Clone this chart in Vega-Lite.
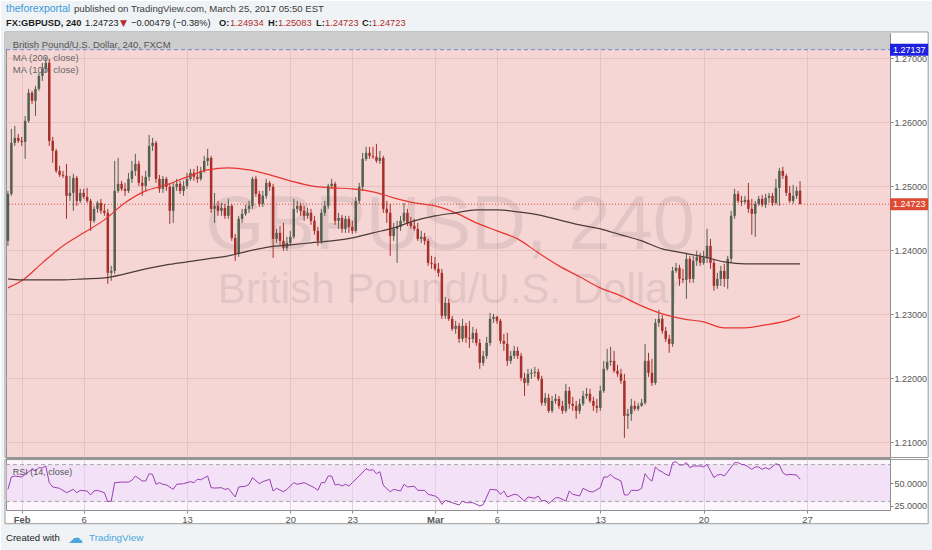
{
"$schema": "https://vega.github.io/schema/vega-lite/v6.json",
"background": "#ffffff",
"padding": 0,
"spacing": -2,
"config": {"font": "Liberation Sans", "axis": {"domain": false, "labelColor": "#555555", "labelFontSize": 9, "labelFont": "Liberation Sans", "tickColor": "#888888"}},
"datasets": {
"candles": [
{"i":-4,"o":1.2415,"h":1.24931,"l":1.24072,"c":1.24884},
{"i":-3,"o":1.24884,"h":1.259,"l":1.24853,"c":1.25681},
{"i":-2,"o":1.25681,"h":1.25947,"l":1.25634,"c":1.25759},
{"i":-1,"o":1.25759,"h":1.25822,"l":1.25681,"c":1.25713},
{"i":0,"o":1.25713,"h":1.25775,"l":1.25634,"c":1.25697},
{"i":1,"o":1.25697,"h":1.26103,"l":1.25431,"c":1.26025},
{"i":2,"o":1.26025,"h":1.26525,"l":1.25994,"c":1.26463},
{"i":3,"o":1.26463,"h":1.26494,"l":1.26291,"c":1.26338},
{"i":4,"o":1.26338,"h":1.26572,"l":1.26103,"c":1.26525},
{"i":5,"o":1.26525,"h":1.26775,"l":1.26494,"c":1.26728},
{"i":6,"o":1.26728,"h":1.26931,"l":1.2665,"c":1.26838},
{"i":7,"o":1.26838,"h":1.27025,"l":1.26775,"c":1.26931},
{"i":8,"o":1.26931,"h":1.26994,"l":1.25634,"c":1.25713},
{"i":9,"o":1.25713,"h":1.25775,"l":1.25369,"c":1.25556},
{"i":10,"o":1.25556,"h":1.25588,"l":1.25213,"c":1.25244},
{"i":11,"o":1.25244,"h":1.25322,"l":1.2515,"c":1.25181},
{"i":12,"o":1.25181,"h":1.25244,"l":1.25134,"c":1.25166},
{"i":13,"o":1.25166,"h":1.25353,"l":1.24494,"c":1.24853},
{"i":14,"o":1.24853,"h":1.25166,"l":1.24775,"c":1.249},
{"i":15,"o":1.249,"h":1.25197,"l":1.24619,"c":1.25134},
{"i":16,"o":1.25134,"h":1.25166,"l":1.24697,"c":1.24775},
{"i":17,"o":1.24775,"h":1.24963,"l":1.24744,"c":1.249},
{"i":18,"o":1.249,"h":1.24963,"l":1.24806,"c":1.24838},
{"i":19,"o":1.24838,"h":1.24978,"l":1.24744,"c":1.24775},
{"i":20,"o":1.24775,"h":1.24806,"l":1.24306,"c":1.24463},
{"i":21,"o":1.24463,"h":1.24697,"l":1.24431,"c":1.2465},
{"i":22,"o":1.2465,"h":1.24775,"l":1.24588,"c":1.24744},
{"i":23,"o":1.24744,"h":1.24806,"l":1.24572,"c":1.24619},
{"i":24,"o":1.24619,"h":1.24728,"l":1.24541,"c":1.24588},
{"i":25,"o":1.24588,"h":1.2465,"l":1.23478,"c":1.2365},
{"i":26,"o":1.2365,"h":1.23759,"l":1.23525,"c":1.23681},
{"i":27,"o":1.23681,"h":1.254,"l":1.23634,"c":1.24931},
{"i":28,"o":1.24931,"h":1.25447,"l":1.249,"c":1.25041},
{"i":29,"o":1.25041,"h":1.25088,"l":1.24931,"c":1.24963},
{"i":30,"o":1.24963,"h":1.25056,"l":1.24853,"c":1.24931},
{"i":31,"o":1.24931,"h":1.25213,"l":1.249,"c":1.25119},
{"i":32,"o":1.25119,"h":1.254,"l":1.25056,"c":1.25244},
{"i":33,"o":1.25244,"h":1.25509,"l":1.25166,"c":1.25353},
{"i":34,"o":1.25353,"h":1.254,"l":1.25009,"c":1.25056},
{"i":35,"o":1.25056,"h":1.25166,"l":1.24853,"c":1.25009},
{"i":36,"o":1.25009,"h":1.25244,"l":1.24931,"c":1.2515},
{"i":37,"o":1.2515,"h":1.25806,"l":1.25088,"c":1.25634},
{"i":38,"o":1.25634,"h":1.25759,"l":1.25556,"c":1.25681},
{"i":39,"o":1.25681,"h":1.25713,"l":1.25056,"c":1.25119},
{"i":40,"o":1.25119,"h":1.25181,"l":1.249,"c":1.24963},
{"i":41,"o":1.24963,"h":1.25166,"l":1.249,"c":1.25119},
{"i":42,"o":1.25119,"h":1.2515,"l":1.24931,"c":1.24994},
{"i":43,"o":1.24994,"h":1.25041,"l":1.24416,"c":1.24619},
{"i":44,"o":1.24619,"h":1.25056,"l":1.24431,"c":1.24994},
{"i":45,"o":1.24994,"h":1.25119,"l":1.24931,"c":1.25041},
{"i":46,"o":1.25041,"h":1.25088,"l":1.24884,"c":1.24931},
{"i":47,"o":1.24931,"h":1.25088,"l":1.24853,"c":1.25009},
{"i":48,"o":1.25009,"h":1.25213,"l":1.24963,"c":1.25119},
{"i":49,"o":1.25119,"h":1.25275,"l":1.25088,"c":1.25213},
{"i":50,"o":1.25213,"h":1.25275,"l":1.25088,"c":1.2515},
{"i":51,"o":1.2515,"h":1.25322,"l":1.25056,"c":1.25119},
{"i":52,"o":1.25119,"h":1.25306,"l":1.25088,"c":1.25244},
{"i":53,"o":1.25244,"h":1.25478,"l":1.25213,"c":1.254},
{"i":54,"o":1.254,"h":1.25588,"l":1.25322,"c":1.25447},
{"i":55,"o":1.25447,"h":1.25478,"l":1.24588,"c":1.2465},
{"i":56,"o":1.2465,"h":1.249,"l":1.24431,"c":1.24697},
{"i":57,"o":1.24697,"h":1.24775,"l":1.24541,"c":1.24619},
{"i":58,"o":1.24619,"h":1.24744,"l":1.24541,"c":1.24666},
{"i":59,"o":1.24666,"h":1.24728,"l":1.24494,"c":1.24541},
{"i":60,"o":1.24541,"h":1.24806,"l":1.24494,"c":1.24697},
{"i":61,"o":1.24697,"h":1.24728,"l":1.2415,"c":1.24197},
{"i":62,"o":1.24197,"h":1.24259,"l":1.23838,"c":1.23947},
{"i":63,"o":1.23947,"h":1.24541,"l":1.239,"c":1.24494},
{"i":64,"o":1.24494,"h":1.2465,"l":1.24431,"c":1.24572},
{"i":65,"o":1.24572,"h":1.24713,"l":1.24541,"c":1.2465},
{"i":66,"o":1.2465,"h":1.24775,"l":1.24588,"c":1.24697},
{"i":67,"o":1.24697,"h":1.2515,"l":1.2465,"c":1.25119},
{"i":68,"o":1.25119,"h":1.25166,"l":1.24838,"c":1.24884},
{"i":69,"o":1.24884,"h":1.24931,"l":1.24681,"c":1.24728},
{"i":70,"o":1.24728,"h":1.24931,"l":1.24681,"c":1.24853},
{"i":71,"o":1.24853,"h":1.25119,"l":1.24806,"c":1.25056},
{"i":72,"o":1.25056,"h":1.25088,"l":1.24931,"c":1.24994},
{"i":73,"o":1.24994,"h":1.25041,"l":1.23884,"c":1.24181},
{"i":74,"o":1.24181,"h":1.24338,"l":1.24119,"c":1.24275},
{"i":75,"o":1.24275,"h":1.24384,"l":1.24088,"c":1.2415},
{"i":76,"o":1.2415,"h":1.24431,"l":1.23994,"c":1.24041},
{"i":77,"o":1.24041,"h":1.24213,"l":1.23994,"c":1.24119},
{"i":78,"o":1.24119,"h":1.24306,"l":1.24072,"c":1.24213},
{"i":79,"o":1.24213,"h":1.24806,"l":1.24181,"c":1.2465},
{"i":80,"o":1.2465,"h":1.24775,"l":1.24588,"c":1.24697},
{"i":81,"o":1.24697,"h":1.24744,"l":1.24541,"c":1.24619},
{"i":82,"o":1.24619,"h":1.24697,"l":1.24463,"c":1.24541},
{"i":83,"o":1.24541,"h":1.24666,"l":1.24494,"c":1.24588},
{"i":84,"o":1.24588,"h":1.2465,"l":1.244,"c":1.24463},
{"i":85,"o":1.24463,"h":1.24541,"l":1.24244,"c":1.24306},
{"i":86,"o":1.24306,"h":1.24369,"l":1.24072,"c":1.2415},
{"i":87,"o":1.2415,"h":1.2465,"l":1.24103,"c":1.24588},
{"i":88,"o":1.24588,"h":1.24775,"l":1.24541,"c":1.24697},
{"i":89,"o":1.24697,"h":1.25041,"l":1.2465,"c":1.25009},
{"i":90,"o":1.25009,"h":1.25119,"l":1.24963,"c":1.25041},
{"i":91,"o":1.25041,"h":1.25072,"l":1.244,"c":1.24463},
{"i":92,"o":1.24463,"h":1.24588,"l":1.24338,"c":1.24509},
{"i":93,"o":1.24509,"h":1.24556,"l":1.24275,"c":1.24338},
{"i":94,"o":1.24338,"h":1.24541,"l":1.24275,"c":1.24494},
{"i":95,"o":1.24494,"h":1.24541,"l":1.24275,"c":1.24369},
{"i":96,"o":1.24369,"h":1.24463,"l":1.24259,"c":1.24306},
{"i":97,"o":1.24306,"h":1.24838,"l":1.24275,"c":1.24775},
{"i":98,"o":1.24775,"h":1.25056,"l":1.24728,"c":1.24994},
{"i":99,"o":1.24994,"h":1.25525,"l":1.24931,"c":1.25431},
{"i":100,"o":1.25431,"h":1.25619,"l":1.254,"c":1.25525},
{"i":101,"o":1.25525,"h":1.25619,"l":1.25431,"c":1.25478},
{"i":102,"o":1.25478,"h":1.25619,"l":1.25431,"c":1.25463},
{"i":103,"o":1.25463,"h":1.25666,"l":1.25369,"c":1.254},
{"i":104,"o":1.254,"h":1.25556,"l":1.25353,"c":1.25447},
{"i":105,"o":1.25447,"h":1.25478,"l":1.24588,"c":1.2465},
{"i":106,"o":1.2465,"h":1.24775,"l":1.24431,"c":1.24588},
{"i":107,"o":1.24588,"h":1.24728,"l":1.23916,"c":1.24228},
{"i":108,"o":1.24228,"h":1.24431,"l":1.2415,"c":1.24338},
{"i":109,"o":1.24338,"h":1.24463,"l":1.23806,"c":1.24369},
{"i":110,"o":1.24369,"h":1.24541,"l":1.24306,"c":1.24463},
{"i":111,"o":1.24463,"h":1.24744,"l":1.24431,"c":1.24588},
{"i":112,"o":1.24588,"h":1.2465,"l":1.24384,"c":1.24431},
{"i":113,"o":1.24431,"h":1.24525,"l":1.24338,"c":1.24384},
{"i":114,"o":1.24384,"h":1.24494,"l":1.24306,"c":1.24338},
{"i":115,"o":1.24338,"h":1.24431,"l":1.2415,"c":1.24181},
{"i":116,"o":1.24181,"h":1.24306,"l":1.24119,"c":1.24213},
{"i":117,"o":1.24213,"h":1.24275,"l":1.24088,"c":1.2415},
{"i":118,"o":1.2415,"h":1.24181,"l":1.23759,"c":1.23806},
{"i":119,"o":1.23806,"h":1.23916,"l":1.23713,"c":1.23791},
{"i":120,"o":1.23791,"h":1.239,"l":1.23681,"c":1.23713},
{"i":121,"o":1.23713,"h":1.23806,"l":1.23588,"c":1.2365},
{"i":122,"o":1.2365,"h":1.23713,"l":1.22931,"c":1.22978},
{"i":123,"o":1.22978,"h":1.23275,"l":1.22931,"c":1.23181},
{"i":124,"o":1.23181,"h":1.23244,"l":1.229,"c":1.22931},
{"i":125,"o":1.22931,"h":1.22978,"l":1.22744,"c":1.22775},
{"i":126,"o":1.22775,"h":1.229,"l":1.22697,"c":1.22822},
{"i":127,"o":1.22822,"h":1.22869,"l":1.22556,"c":1.22619},
{"i":128,"o":1.22619,"h":1.22931,"l":1.22572,"c":1.22822},
{"i":129,"o":1.22822,"h":1.22869,"l":1.22556,"c":1.22634},
{"i":130,"o":1.22634,"h":1.229,"l":1.22478,"c":1.22619},
{"i":131,"o":1.22619,"h":1.22806,"l":1.22556,"c":1.22713},
{"i":132,"o":1.22713,"h":1.22775,"l":1.22509,"c":1.22556},
{"i":133,"o":1.22556,"h":1.22619,"l":1.2215,"c":1.22244},
{"i":134,"o":1.22244,"h":1.22431,"l":1.22197,"c":1.22353},
{"i":135,"o":1.22353,"h":1.2265,"l":1.22306,"c":1.22556},
{"i":136,"o":1.22556,"h":1.23025,"l":1.22509,"c":1.22931},
{"i":137,"o":1.22931,"h":1.23009,"l":1.22869,"c":1.22963},
{"i":138,"o":1.22963,"h":1.22978,"l":1.22853,"c":1.229},
{"i":139,"o":1.229,"h":1.22931,"l":1.22541,"c":1.22588},
{"i":140,"o":1.22588,"h":1.22697,"l":1.22431,"c":1.22541},
{"i":141,"o":1.22541,"h":1.22713,"l":1.22197,"c":1.22275},
{"i":142,"o":1.22275,"h":1.22431,"l":1.22228,"c":1.22353},
{"i":143,"o":1.22353,"h":1.22509,"l":1.22306,"c":1.22431},
{"i":144,"o":1.22431,"h":1.22494,"l":1.22306,"c":1.22353},
{"i":145,"o":1.22353,"h":1.224,"l":1.21963,"c":1.22009},
{"i":146,"o":1.22009,"h":1.22088,"l":1.21728,"c":1.21931},
{"i":147,"o":1.21931,"h":1.2215,"l":1.21884,"c":1.22072},
{"i":148,"o":1.22072,"h":1.2215,"l":1.21994,"c":1.22088},
{"i":149,"o":1.22088,"h":1.22181,"l":1.22025,"c":1.22103},
{"i":150,"o":1.22103,"h":1.2215,"l":1.21963,"c":1.21994},
{"i":151,"o":1.21994,"h":1.22041,"l":1.21572,"c":1.21619},
{"i":152,"o":1.21619,"h":1.21775,"l":1.21572,"c":1.21697},
{"i":153,"o":1.21697,"h":1.21759,"l":1.21463,"c":1.21494},
{"i":154,"o":1.21494,"h":1.21728,"l":1.21463,"c":1.2165},
{"i":155,"o":1.2165,"h":1.21759,"l":1.21603,"c":1.21681},
{"i":156,"o":1.21681,"h":1.21728,"l":1.21525,"c":1.21572},
{"i":157,"o":1.21572,"h":1.2165,"l":1.21447,"c":1.21494},
{"i":158,"o":1.21494,"h":1.21916,"l":1.21463,"c":1.21806},
{"i":159,"o":1.21806,"h":1.21869,"l":1.21525,"c":1.21603},
{"i":160,"o":1.21603,"h":1.21713,"l":1.21494,"c":1.21572},
{"i":161,"o":1.21572,"h":1.2165,"l":1.21369,"c":1.21494},
{"i":162,"o":1.21494,"h":1.21681,"l":1.21447,"c":1.21603},
{"i":163,"o":1.21603,"h":1.21806,"l":1.21572,"c":1.21728},
{"i":164,"o":1.21728,"h":1.21853,"l":1.21681,"c":1.21759},
{"i":165,"o":1.21759,"h":1.21838,"l":1.21619,"c":1.2165},
{"i":166,"o":1.2165,"h":1.21713,"l":1.21494,"c":1.21572},
{"i":167,"o":1.21572,"h":1.21681,"l":1.21463,"c":1.21541},
{"i":168,"o":1.21541,"h":1.21884,"l":1.21494,"c":1.21806},
{"i":169,"o":1.21806,"h":1.22275,"l":1.21775,"c":1.2215},
{"i":170,"o":1.2215,"h":1.22463,"l":1.22119,"c":1.22259},
{"i":171,"o":1.22259,"h":1.22494,"l":1.22197,"c":1.22275},
{"i":172,"o":1.22275,"h":1.22431,"l":1.22088,"c":1.22119},
{"i":173,"o":1.22119,"h":1.22213,"l":1.22025,"c":1.22072},
{"i":174,"o":1.22072,"h":1.2215,"l":1.21916,"c":1.21963},
{"i":175,"o":1.21963,"h":1.22072,"l":1.21072,"c":1.21416},
{"i":176,"o":1.21416,"h":1.21525,"l":1.21213,"c":1.21447},
{"i":177,"o":1.21447,"h":1.21681,"l":1.21338,"c":1.21572},
{"i":178,"o":1.21572,"h":1.2165,"l":1.21494,"c":1.21525},
{"i":179,"o":1.21525,"h":1.21619,"l":1.21494,"c":1.21572},
{"i":180,"o":1.21572,"h":1.21681,"l":1.21556,"c":1.21619},
{"i":181,"o":1.21619,"h":1.22541,"l":1.21588,"c":1.22275},
{"i":182,"o":1.22275,"h":1.224,"l":1.22025,"c":1.22088},
{"i":183,"o":1.22088,"h":1.22306,"l":1.21884,"c":1.21931},
{"i":184,"o":1.21931,"h":1.22931,"l":1.219,"c":1.22869},
{"i":185,"o":1.22869,"h":1.23072,"l":1.22806,"c":1.22931},
{"i":186,"o":1.22931,"h":1.22994,"l":1.22697,"c":1.22744},
{"i":187,"o":1.22744,"h":1.22806,"l":1.22572,"c":1.22619},
{"i":188,"o":1.22619,"h":1.22681,"l":1.224,"c":1.22541},
{"i":189,"o":1.22541,"h":1.23744,"l":1.22494,"c":1.23681},
{"i":190,"o":1.23681,"h":1.23806,"l":1.2365,"c":1.23728},
{"i":191,"o":1.23728,"h":1.23775,"l":1.23447,"c":1.23556},
{"i":192,"o":1.23556,"h":1.23713,"l":1.23494,"c":1.23541},
{"i":193,"o":1.23541,"h":1.23963,"l":1.23244,"c":1.23869},
{"i":194,"o":1.23869,"h":1.23916,"l":1.23494,"c":1.23556},
{"i":195,"o":1.23556,"h":1.23916,"l":1.23494,"c":1.23838},
{"i":196,"o":1.23838,"h":1.23994,"l":1.23759,"c":1.239},
{"i":197,"o":1.239,"h":1.23963,"l":1.23759,"c":1.23806},
{"i":198,"o":1.23806,"h":1.23994,"l":1.23775,"c":1.23884},
{"i":199,"o":1.23884,"h":1.24338,"l":1.23806,"c":1.24072},
{"i":200,"o":1.24072,"h":1.24181,"l":1.23713,"c":1.23806},
{"i":201,"o":1.23806,"h":1.23869,"l":1.23369,"c":1.23447},
{"i":202,"o":1.23447,"h":1.2365,"l":1.234,"c":1.23556},
{"i":203,"o":1.23556,"h":1.23759,"l":1.23447,"c":1.23681},
{"i":204,"o":1.23681,"h":1.23791,"l":1.23431,"c":1.23556},
{"i":205,"o":1.23556,"h":1.23916,"l":1.234,"c":1.23869},
{"i":206,"o":1.23869,"h":1.24619,"l":1.23806,"c":1.24541},
{"i":207,"o":1.24541,"h":1.24963,"l":1.24494,"c":1.24884},
{"i":208,"o":1.24884,"h":1.24931,"l":1.24744,"c":1.24775},
{"i":209,"o":1.24775,"h":1.24853,"l":1.24697,"c":1.24759},
{"i":210,"o":1.24759,"h":1.24853,"l":1.24728,"c":1.24791},
{"i":211,"o":1.24791,"h":1.25056,"l":1.24588,"c":1.2465},
{"i":212,"o":1.2465,"h":1.24806,"l":1.24244,"c":1.24572},
{"i":213,"o":1.24572,"h":1.24775,"l":1.24213,"c":1.24728},
{"i":214,"o":1.24728,"h":1.24853,"l":1.24697,"c":1.24806},
{"i":215,"o":1.24806,"h":1.24869,"l":1.24681,"c":1.24713},
{"i":216,"o":1.24713,"h":1.24884,"l":1.24666,"c":1.24822},
{"i":217,"o":1.24822,"h":1.249,"l":1.24744,"c":1.24853},
{"i":218,"o":1.24853,"h":1.249,"l":1.24697,"c":1.24744},
{"i":219,"o":1.24744,"h":1.25119,"l":1.24713,"c":1.24978},
{"i":220,"o":1.24978,"h":1.25291,"l":1.24697,"c":1.25244},
{"i":221,"o":1.25244,"h":1.25306,"l":1.25119,"c":1.25166},
{"i":222,"o":1.25166,"h":1.25197,"l":1.24853,"c":1.249},
{"i":223,"o":1.249,"h":1.25009,"l":1.24744,"c":1.24775},
{"i":224,"o":1.24775,"h":1.25025,"l":1.24728,"c":1.24853},
{"i":225,"o":1.24853,"h":1.24994,"l":1.24806,"c":1.24931},
{"i":226,"o":1.24934,"h":1.25083,"l":1.24723,"c":1.24723}
],
"ma": [
{"i":-4,"ma100":1.23416,"ma200":1.23556},
{"i":0,"ma100":1.23525,"ma200":1.23541},
{"i":6,"ma100":1.23806,"ma200":1.23541},
{"i":12,"ma100":1.24072,"ma200":1.23541},
{"i":18,"ma100":1.24275,"ma200":1.23556},
{"i":24,"ma100":1.24478,"ma200":1.23572},
{"i":30,"ma100":1.24744,"ma200":1.23634},
{"i":36,"ma100":1.24931,"ma200":1.23713},
{"i":42,"ma100":1.25025,"ma200":1.23775},
{"i":48,"ma100":1.2515,"ma200":1.23822},
{"i":54,"ma100":1.25259,"ma200":1.23869},
{"i":60,"ma100":1.25291,"ma200":1.23916},
{"i":66,"ma100":1.25259,"ma200":1.23994},
{"i":72,"ma100":1.25181,"ma200":1.24056},
{"i":78,"ma100":1.25088,"ma200":1.24088},
{"i":84,"ma100":1.25009,"ma200":1.24119},
{"i":90,"ma100":1.24978,"ma200":1.2415},
{"i":96,"ma100":1.24963,"ma200":1.24197},
{"i":102,"ma100":1.24916,"ma200":1.24275},
{"i":108,"ma100":1.24822,"ma200":1.24353},
{"i":114,"ma100":1.24744,"ma200":1.24463},
{"i":120,"ma100":1.24697,"ma200":1.24541},
{"i":126,"ma100":1.24588,"ma200":1.24588},
{"i":132,"ma100":1.24431,"ma200":1.24634},
{"i":138,"ma100":1.24306,"ma200":1.24634},
{"i":144,"ma100":1.24181,"ma200":1.24603},
{"i":150,"ma100":1.23963,"ma200":1.24556},
{"i":156,"ma100":1.23759,"ma200":1.24478},
{"i":162,"ma100":1.23588,"ma200":1.244},
{"i":168,"ma100":1.23416,"ma200":1.24338},
{"i":174,"ma100":1.23291,"ma200":1.24244},
{"i":180,"ma100":1.23134,"ma200":1.2415},
{"i":186,"ma100":1.23009,"ma200":1.24025},
{"i":192,"ma100":1.22931,"ma200":1.23963},
{"i":198,"ma100":1.22884,"ma200":1.239},
{"i":204,"ma100":1.22791,"ma200":1.23822},
{"i":210,"ma100":1.22791,"ma200":1.23791},
{"i":216,"ma100":1.22838,"ma200":1.23791},
{"i":222,"ma100":1.229,"ma200":1.23791},
{"i":226,"ma100":1.22978,"ma200":1.23791}
],
"rsi": [
{"i":-4,"v":43},{"i":-3,"v":56.5},{"i":-2,"v":57.6},{"i":0,"v":56.5},{"i":1,"v":59.4},{"i":3,"v":64.9},{"i":4,"v":63},{"i":5,"v":66.7},{"i":6,"v":66.3},{"i":7,"v":68.5},{"i":8,"v":50.4},{"i":9,"v":45.7},{"i":11,"v":44.2},{"i":13,"v":39.5},{"i":15,"v":43.1},{"i":16,"v":39.5},{"i":17,"v":42},{"i":19,"v":41.3},{"i":20,"v":37},{"i":21,"v":41.3},{"i":22,"v":42},{"i":24,"v":39.5},{"i":25,"v":29.7},{"i":26,"v":30.4},{"i":27,"v":50.4},{"i":29,"v":51},{"i":31,"v":51},{"i":32,"v":52.9},{"i":33,"v":57.6},{"i":35,"v":52.2},{"i":36,"v":52.2},{"i":37,"v":60.1},{"i":38,"v":59.4},{"i":39,"v":48.6},{"i":40,"v":50.4},{"i":41,"v":48.6},{"i":42,"v":48},{"i":44,"v":43.1},{"i":45,"v":48.6},{"i":47,"v":49.3},{"i":49,"v":51.5},{"i":50,"v":50.4},{"i":51,"v":54},{"i":52,"v":53.5},{"i":54,"v":57.6},{"i":55,"v":44.9},{"i":56,"v":44.5},{"i":58,"v":44.9},{"i":59,"v":43.1},{"i":60,"v":44},{"i":62,"v":34.8},{"i":63,"v":45.7},{"i":65,"v":46.5},{"i":66,"v":48.6},{"i":67,"v":55.8},{"i":69,"v":49.3},{"i":70,"v":51.5},{"i":72,"v":54},{"i":73,"v":41.3},{"i":74,"v":44.2},{"i":76,"v":40.5},{"i":77,"v":43.1},{"i":79,"v":50.4},{"i":80,"v":48.6},{"i":82,"v":50.4},{"i":83,"v":48.6},{"i":85,"v":44.9},{"i":86,"v":42},{"i":87,"v":50.4},{"i":88,"v":50.4},{"i":89,"v":57.6},{"i":90,"v":57.6},{"i":91,"v":47.8},{"i":92,"v":48.6},{"i":93,"v":46.7},{"i":94,"v":48.6},{"i":95,"v":46.7},{"i":96,"v":50.4},{"i":98,"v":57.6},{"i":100,"v":65.6},{"i":101,"v":63.8},{"i":102,"v":64.5},{"i":103,"v":60.1},{"i":104,"v":62.3},{"i":105,"v":47.5},{"i":107,"v":40.5},{"i":108,"v":43.1},{"i":110,"v":41.3},{"i":111,"v":48.6},{"i":112,"v":45.7},{"i":114,"v":46.5},{"i":115,"v":42},{"i":117,"v":42},{"i":118,"v":37.7},{"i":120,"v":35.9},{"i":121,"v":33.4},{"i":122,"v":26.8},{"i":123,"v":31.1},{"i":125,"v":28.6},{"i":127,"v":26.1},{"i":128,"v":30.4},{"i":129,"v":28.6},{"i":131,"v":28.6},{"i":133,"v":25},{"i":134,"v":26.5},{"i":136,"v":43.1},{"i":138,"v":42.4},{"i":139,"v":37.7},{"i":140,"v":41.3},{"i":141,"v":34.8},{"i":143,"v":37.7},{"i":144,"v":37},{"i":146,"v":30.4},{"i":147,"v":34.8},{"i":149,"v":33.4},{"i":150,"v":35.9},{"i":151,"v":30.4},{"i":152,"v":31.1},{"i":153,"v":27.5},{"i":155,"v":34},{"i":156,"v":34},{"i":158,"v":30.4},{"i":159,"v":41.3},{"i":160,"v":37.7},{"i":162,"v":35.9},{"i":163,"v":44.2},{"i":165,"v":40.5},{"i":166,"v":40.5},{"i":168,"v":44.9},{"i":169,"v":56.5},{"i":170,"v":56.5},{"i":171,"v":59.4},{"i":172,"v":55.8},{"i":174,"v":52.2},{"i":175,"v":37},{"i":176,"v":37},{"i":177,"v":42},{"i":179,"v":42},{"i":180,"v":44.2},{"i":181,"v":60.1},{"i":182,"v":55},{"i":183,"v":52},{"i":184,"v":67.4},{"i":185,"v":63.8},{"i":186,"v":62},{"i":187,"v":59.4},{"i":188,"v":58},{"i":189,"v":72.1},{"i":190,"v":73.2},{"i":191,"v":69.6},{"i":192,"v":69.6},{"i":193,"v":72.1},{"i":194,"v":66.7},{"i":195,"v":68.5},{"i":197,"v":68.5},{"i":198,"v":67.5},{"i":199,"v":70.3},{"i":201,"v":55.8},{"i":202,"v":58.7},{"i":203,"v":59.4},{"i":204,"v":57.6},{"i":205,"v":62.3},{"i":207,"v":72.1},{"i":208,"v":72.1},{"i":209,"v":70.3},{"i":210,"v":69.6},{"i":211,"v":67.4},{"i":212,"v":64.9},{"i":213,"v":67.4},{"i":214,"v":67.4},{"i":215,"v":64.9},{"i":216,"v":66.7},{"i":217,"v":64.9},{"i":219,"v":71},{"i":220,"v":69.6},{"i":221,"v":61.2},{"i":222,"v":58.7},{"i":223,"v":59.4},{"i":225,"v":58.7},{"i":226,"v":54}
]
},
"vconcat": [
{
"width": 884,
"height": 425,
"view": {"fill": "#f5d6d5", "stroke": "#8f8f8f"},
"layer": [
{"data": {"values": [{}]}, "mark": {"type": "rect", "color": "#cccccc"},
 "encoding": {
  "x": {"datum": -4.56, "type": "quantitative", "scale": {"domain": [-4.56, 252.12], "nice": false, "zero": false, "padding": 0}, "axis": {"orient": "top", "grid": true, "gridColor": "#e8c2c1", "labels": false, "ticks": false, "tickSize": 0, "labelPadding": 0, "minExtent": 0, "maxExtent": 0, "domain": false, "values": [0,18,48,78,96,120,138,168,198,228], "title": null}},
  "x2": {"datum": 252.12},
  "y": {"datum": 1.27137, "type": "quantitative", "scale": {"domain": [1.20757, 1.27398], "nice": false, "zero": false}, "axis": {"orient": "right", "grid": true, "gridColor": "#e8c2c1", "domain": false, "tickSize": 3, "labelPadding": 1, "values": [1.21,1.215,1.22,1.225,1.23,1.235,1.24,1.245,1.25,1.255,1.26,1.265,1.27], "format": ".5f", "title": null}},
  "y2": {"datum": 1.27398}}},
{"data": {"values": [{}]}, "mark": {"type": "text", "fontSize": 76, "color": "#000000", "opacity": 0.07, "align": "center", "baseline": "alphabetic"},
 "encoding": {"x": {"datum": 124.4}, "y": {"datum": 1.24023}, "text": {"value": "GBPUSD, 240"}}},
{"data": {"values": [{}]}, "mark": {"type": "text", "fontSize": 42, "color": "#000000", "opacity": 0.07, "align": "center", "baseline": "alphabetic"},
 "encoding": {"x": {"datum": 124.4}, "y": {"datum": 1.23179}, "text": {"value": "British Pound/U.S. Dollar"}}},
{"data": {"values": [{}]}, "mark": {"type": "rule", "color": "#7384d8", "strokeDash": [4, 3], "strokeWidth": 1},
 "encoding": {"x": {"datum": -4.56}, "x2": {"datum": 252.12}, "y": {"datum": 1.27137}}},
{"data": {"values": [{}]}, "mark": {"type": "rule", "color": "#e0473a", "strokeDash": [1, 2], "strokeWidth": 1},
 "encoding": {"x": {"datum": -4.56}, "x2": {"datum": 252.12}, "y": {"datum": 1.24723}}},
{"data": {"name": "candles"}, "mark": {"type": "rule", "strokeWidth": 1},
 "encoding": {"x": {"field": "i", "type": "quantitative", "title": null}, "y": {"field": "l", "type": "quantitative", "title": null}, "y2": {"field": "h"},
  "color": {"condition": {"test": "datum.c < datum.o", "value": "#a62f2a"}, "value": "#535f4f"}}},
{"data": {"name": "candles"}, "mark": {"type": "bar", "width": 2.5, "orient": "vertical"},
 "encoding": {"x": {"field": "i", "type": "quantitative", "title": null, "scale": {"padding": 0}}, "y": {"field": "o", "type": "quantitative", "title": null}, "y2": {"field": "c"},
  "color": {"condition": {"test": "datum.c < datum.o", "value": "#a62f2a"}, "value": "#535f4f"}}},
{"data": {"name": "ma"}, "mark": {"type": "line", "color": "#e8362f", "strokeWidth": 1.2, "interpolate": "monotone"},
 "encoding": {"x": {"field": "i", "type": "quantitative", "title": null}, "y": {"field": "ma100", "type": "quantitative", "title": null}}},
{"data": {"name": "ma"}, "mark": {"type": "line", "color": "#4d3b38", "strokeWidth": 1.2, "interpolate": "monotone"},
 "encoding": {"x": {"field": "i", "type": "quantitative", "title": null}, "y": {"field": "ma200", "type": "quantitative", "title": null}}},
{"data": {"values": [{}]}, "mark": {"type": "rect", "color": "#f0f3f6", "clip": false},
 "encoding": {"x": {"datum": -6.01}, "x2": {"datum": 264.6}, "y": {"datum": 1.27414}, "y2": {"datum": 1.27898}}},
{"data": {"values": [{}]}, "mark": {"type": "rect", "color": "#f0f3f6", "clip": false},
 "encoding": {"x": {"datum": -6.01}, "x2": {"datum": -4.85}, "y": {"datum": 1.20757}, "y2": {"datum": 1.27414}}},
{"data": {"values": [{}]}, "mark": {"type": "rect", "color": "#f0f3f6", "clip": false},
 "encoding": {"x": {"datum": 263.2}, "x2": {"datum": 264.6}, "y": {"datum": 1.20757}, "y2": {"datum": 1.27414}}},
{"data": {"values": [{}]}, "mark": {"type": "rect", "fillOpacity": 0, "stroke": "#9a9a9a", "strokeWidth": 1, "clip": false},
 "encoding": {"x": {"datum": -4.85}, "x2": {"datum": 263.2}, "y": {"datum": 1.20765}, "y2": {"datum": 1.27414}}},
{"data": {"values": [{}]}, "mark": {"type": "rect", "color": "#1f1fe0", "clip": false},
 "encoding": {"x": {"datum": 252.12}, "x2": {"datum": 263.2}, "y": {"datum": 1.27043}, "y2": {"datum": 1.27231}}},
{"data": {"values": [{}]}, "mark": {"type": "text", "color": "#ffffff", "fontSize": 9, "align": "left", "baseline": "middle", "clip": false},
 "encoding": {"x": {"datum": 253.0}, "y": {"datum": 1.27137}, "text": {"value": "1.27137"}}},
{"data": {"values": [{}]}, "mark": {"type": "rect", "color": "#df4a33", "clip": false},
 "encoding": {"x": {"datum": 252.12}, "x2": {"datum": 263.2}, "y": {"datum": 1.24629}, "y2": {"datum": 1.24817}}},
{"data": {"values": [{}]}, "mark": {"type": "text", "color": "#ffffff", "fontSize": 9, "align": "left", "baseline": "middle", "clip": false},
 "encoding": {"x": {"datum": 253.0}, "y": {"datum": 1.24723}, "text": {"value": "1.24723"}}},
{"data": {"values": [{}]}, "mark": {"type": "text", "color": "#555555", "fontSize": 9.5, "align": "left", "baseline": "middle"},
 "encoding": {"x": {"datum": -2.61}, "y": {"datum": 1.27211}, "text": {"value": "British Pound/U.S. Dollar, 240, FXCM"}}},
{"data": {"values": [{}]}, "mark": {"type": "text", "color": "#666666", "fontSize": 9.5, "align": "left", "baseline": "middle"},
 "encoding": {"x": {"datum": -2.61}, "y": {"datum": 1.27007}, "text": {"value": "MA (200, close)"}}},
{"data": {"values": [{}]}, "mark": {"type": "text", "color": "#666666", "fontSize": 9.5, "align": "left", "baseline": "middle"},
 "encoding": {"x": {"datum": -2.61}, "y": {"datum": 1.2682}, "text": {"value": "MA (100, close)"}}},
{"data": {"values": [{}]}, "mark": {"type": "text", "color": "#3a9ad9", "fontSize": 10.5, "align": "left", "baseline": "middle", "clip": false},
 "encoding": {"x": {"datum": -4.56}, "y": {"datum": 1.27773}, "text": {"value": "theforexportal"}}},
{"data": {"values": [{}]}, "mark": {"type": "text", "color": "#3c3c3c", "fontSize": 9.6, "align": "left", "baseline": "middle", "clip": false},
 "encoding": {"x": {"datum": 15.19}, "y": {"datum": 1.27773}, "text": {"value": "published on TradingView.com, March 25, 2017 05:50 EST"}}},
{"data": {"values": [{}]}, "mark": {"type": "text", "color": "#1e1e1e", "fontSize": 9.3, "fontWeight": "bold", "align": "left", "baseline": "middle", "clip": false},
 "encoding": {"x": {"datum": -4.56}, "y": {"datum": 1.27554}, "text": {"value": "FX:GBPUSD, 240"}}},
{"data": {"values": [{}]}, "mark": {"type": "text", "color": "#1e1e1e", "fontSize": 9.3, "align": "left", "baseline": "middle", "clip": false},
 "encoding": {"x": {"datum": 18.38}, "y": {"datum": 1.27554}, "text": {"value": "1.24723"}}},
{"data": {"values": [{}]}, "mark": {"type": "text", "color": "#b42c2c", "fontSize": 9, "align": "left", "baseline": "middle", "clip": false, "font": "DejaVu Sans"},
 "encoding": {"x": {"datum": 28.54}, "y": {"datum": 1.27554}, "text": {"value": "▼"}}},
{"data": {"values": [{}]}, "mark": {"type": "text", "color": "#1e1e1e", "fontSize": 9.3, "align": "left", "baseline": "middle", "clip": false},
 "encoding": {"x": {"datum": 31.74}, "y": {"datum": 1.27554}, "text": {"value": "−0.00479 (−0.38%)"}}},
{"data": {"values": [{}]}, "mark": {"type": "text", "color": "#1e1e1e", "fontSize": 9.3, "fontWeight": "bold", "align": "left", "baseline": "middle", "clip": false},
 "encoding": {"x": {"datum": 57.29}, "y": {"datum": 1.27554}, "text": {"value": "O:"}}},
{"data": {"values": [{}]}, "mark": {"type": "text", "color": "#b42c2c", "fontSize": 9.3, "align": "left", "baseline": "middle", "clip": false},
 "encoding": {"x": {"datum": 60.48}, "y": {"datum": 1.27554}, "text": {"value": "1.24934"}}},
{"data": {"values": [{}]}, "mark": {"type": "text", "color": "#1e1e1e", "fontSize": 9.3, "fontWeight": "bold", "align": "left", "baseline": "middle", "clip": false},
 "encoding": {"x": {"datum": 71.52}, "y": {"datum": 1.27554}, "text": {"value": "H:"}}},
{"data": {"values": [{}]}, "mark": {"type": "text", "color": "#b42c2c", "fontSize": 9.3, "align": "left", "baseline": "middle", "clip": false},
 "encoding": {"x": {"datum": 74.42}, "y": {"datum": 1.27554}, "text": {"value": "1.25083"}}},
{"data": {"values": [{}]}, "mark": {"type": "text", "color": "#1e1e1e", "fontSize": 9.3, "fontWeight": "bold", "align": "left", "baseline": "middle", "clip": false},
 "encoding": {"x": {"datum": 85.45}, "y": {"datum": 1.27554}, "text": {"value": "L:"}}},
{"data": {"values": [{}]}, "mark": {"type": "text", "color": "#b42c2c", "fontSize": 9.3, "align": "left", "baseline": "middle", "clip": false},
 "encoding": {"x": {"datum": 88.07}, "y": {"datum": 1.27554}, "text": {"value": "1.24723"}}},
{"data": {"values": [{}]}, "mark": {"type": "text", "color": "#1e1e1e", "fontSize": 9.3, "fontWeight": "bold", "align": "left", "baseline": "middle", "clip": false},
 "encoding": {"x": {"datum": 98.81}, "y": {"datum": 1.27554}, "text": {"value": "C:"}}},
{"data": {"values": [{}]}, "mark": {"type": "text", "color": "#b42c2c", "fontSize": 9.3, "align": "left", "baseline": "middle", "clip": false},
 "encoding": {"x": {"datum": 101.71}, "y": {"datum": 1.27554}, "text": {"value": "1.24723"}}}
]
},
{
"width": 884,
"height": 51,
"view": {"fill": "#fcf5fc", "stroke": "#8f8f8f"},
"layer": [
{"data": {"values": [{}]}, "mark": {"type": "rect", "color": "#e9cdf1", "opacity": 0.45},
 "encoding": {
  "x": {"datum": -4.56, "type": "quantitative", "scale": {"domain": [-4.56, 252.12], "nice": false, "zero": false, "padding": 0},
   "axis": {"orient": "bottom", "grid": true, "gridColor": "#e2d2e5", "domain": false, "tickSize": 3, "labelPadding": 1, "labelFontSize": 9.5, "values": [0,18,48,78,96,120,138,168,198,228],
    "labelExpr": "datum.value==0?'Feb':datum.value==18?'6':datum.value==48?'13':datum.value==78?'20':datum.value==96?'23':datum.value==120?'Mar':datum.value==138?'6':datum.value==168?'13':datum.value==198?'20':'27'",
    "labelFontWeight": {"condition": {"test": "datum.value==0||datum.value==120", "value": "bold"}, "value": "normal"}, "title": null}},
  "x2": {"datum": 252.12},
  "y": {"datum": 30, "type": "quantitative", "scale": {"domain": [20.65, 76.1], "nice": false, "zero": false},
   "axis": {"orient": "right", "grid": false, "domain": false, "tickSize": 3, "labelPadding": 1, "values": [25, 50], "format": ".4f", "title": null}},
  "y2": {"datum": 70}}},
{"data": {"values": [{}]}, "mark": {"type": "rule", "color": "#a6a6a6", "strokeDash": [4, 3], "strokeWidth": 1},
 "encoding": {"x": {"datum": -4.56}, "x2": {"datum": 252.12}, "y": {"datum": 70}}},
{"data": {"values": [{}]}, "mark": {"type": "rule", "color": "#a6a6a6", "strokeDash": [4, 3], "strokeWidth": 1},
 "encoding": {"x": {"datum": -4.56}, "x2": {"datum": 252.12}, "y": {"datum": 30}}},
{"data": {"name": "rsi"}, "mark": {"type": "line", "color": "#9a3fb2", "strokeWidth": 1},
 "encoding": {"x": {"field": "i", "type": "quantitative", "title": null}, "y": {"field": "v", "type": "quantitative", "title": null}}},
{"data": {"values": [{}]}, "mark": {"type": "text", "color": "#555555", "fontSize": 9, "align": "left", "baseline": "middle"},
 "encoding": {"x": {"datum": -2.61}, "y": {"datum": 62}, "text": {"value": "RSI (14, close)"}}},
{"data": {"values": [{}]}, "mark": {"type": "rect", "color": "#f0f3f6", "clip": false},
 "encoding": {"x": {"datum": -6.01}, "x2": {"datum": 264.6}, "y": {"datum": -23.9}, "y2": {"datum": 5.76}}},
{"data": {"values": [{}]}, "mark": {"type": "rect", "color": "#f0f3f6", "clip": false},
 "encoding": {"x": {"datum": -6.01}, "x2": {"datum": -4.85}, "y": {"datum": 5.76}, "y2": {"datum": 76.1}}},
{"data": {"values": [{}]}, "mark": {"type": "rect", "color": "#f0f3f6", "clip": false},
 "encoding": {"x": {"datum": 263.2}, "x2": {"datum": 264.6}, "y": {"datum": 5.76}, "y2": {"datum": 76.1}}},
{"data": {"values": [{}]}, "mark": {"type": "rect", "fillOpacity": 0, "stroke": "#9a9a9a", "strokeWidth": 1, "clip": false},
 "encoding": {"x": {"datum": -4.85}, "x2": {"datum": 263.2}, "y": {"datum": 5.76}, "y2": {"datum": 75.5}}},
{"data": {"values": [{}]}, "mark": {"type": "text", "color": "#222222", "fontSize": 9.6, "align": "left", "baseline": "middle", "clip": false},
 "encoding": {"x": {"datum": -4.56}, "y": {"datum": -9.8}, "text": {"value": "Created with"}}},
{"data": {"values": [{}]}, "mark": {"type": "text", "color": "#4aa6dc", "fontSize": 15, "align": "center", "baseline": "middle", "clip": false, "font": "DejaVu Sans"},
 "encoding": {"x": {"datum": 15.62}, "y": {"datum": -9.8}, "text": {"value": "☁"}}},
{"data": {"values": [{}]}, "mark": {"type": "text", "color": "#4aa6dc", "fontSize": 9.9, "align": "left", "baseline": "middle", "clip": false},
 "encoding": {"x": {"datum": 19.54}, "y": {"datum": -9.8}, "text": {"value": "TradingView"}}}
]
}
]
}
